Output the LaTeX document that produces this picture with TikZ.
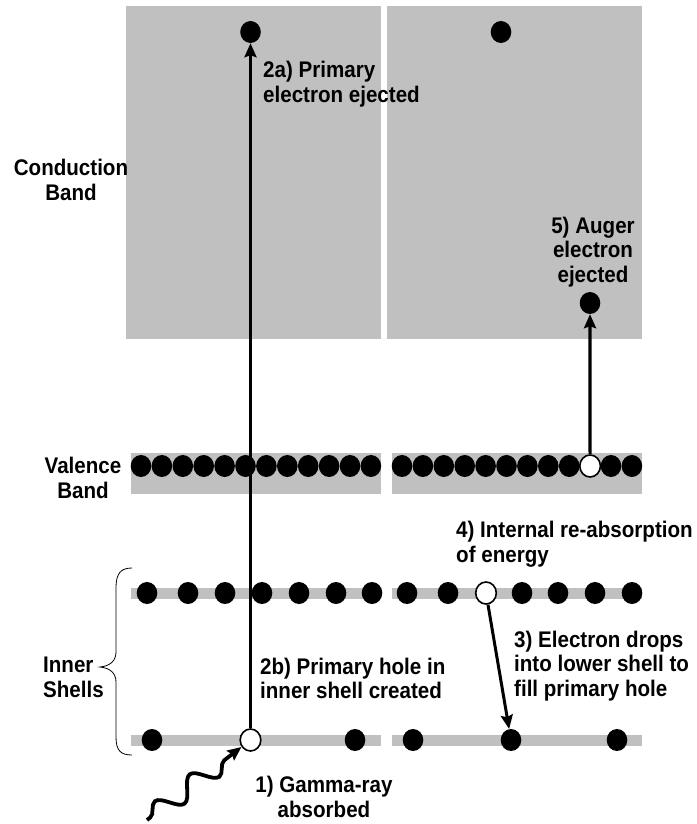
\documentclass[tikz,border=0pt]{standalone}
\usepackage{fontspec}
\setmainfont{Liberation Sans}[FakeStretch=0.91]
\usetikzlibrary{arrows.meta,shapes.geometric,decorations.pathmorphing}
\definecolor{bandgray}{RGB}{192,192,192}
\tikzset{
  band/.style={fill=bandgray, draw=none},
  el/.style={ellipse, fill=black, draw=none, minimum width=20.6pt, minimum height=22pt, inner sep=0pt},
  hole/.style={ellipse, fill=white, draw=black, line width=1.6pt, minimum width=20.6pt, minimum height=22pt, inner sep=0pt},
  lbl/.style={font=\bfseries\fontsize{22.6}{24.5}\selectfont, inner sep=0pt, align=center},
  lbll/.style={lbl, align=left, anchor=west},
  arr/.style={line width=3.2pt, -{Stealth[length=14pt,width=12pt,inset=2pt]}},
  brace/.style={line width=0.8pt}
}
\begin{document}
\begin{tikzpicture}[x=1pt,y=-1pt]
\useasboundingbox (0,0) rectangle (696,824);
% bands
\path[band] (126,6) rectangle (381,339);
\path[band] (387,6) rectangle (642,339);
\path[band] (131,453) rectangle (381,494);
\path[band] (392,453) rectangle (642,494);
\path[band] (131,588) rectangle (381,599);
\path[band] (392,588) rectangle (642,599);
\path[band] (131,735) rectangle (381,746);
\path[band] (392,735) rectangle (642,746);
% conduction electrons
\node[el] (c1) at (250.5,32) {};
\node[el] (c2) at (501,32) {};
\node[el] (ca) at (590,303) {};
% valence
\foreach \i in {0,...,11} { \node[el] (vl\i) at ({141+20.9*\i},466) {}; }
\foreach \i in {0,...,8,10,11} { \node[el] (vr\i) at ({402+20.9*\i},466) {}; }
\node[hole] (vh) at ({402+20.9*9},466) {};
% upper inner shell
\foreach \x [count=\k] in {147,188,225,262,299,336,372,407,448,522,558,595,632} { \node[el] (u\k) at (\x,593) {}; }
\node[hole] (uh) at (486,593) {};
% lower inner shell
\foreach \x [count=\k] in {152,355,413,511,617} { \node[el] (l\k) at (\x,740) {}; }
\node[hole] (lh) at (250.5,740) {};
% arrows
\draw[arr] (lh) -- (c1);
\draw[arr] (vh) -- (ca);
\draw[arr, line width=3pt] (uh) -- (l4);
\coordinate (w0) at (147,820);
\draw[arr, line width=3.8pt, decorate, decoration={snake, segment length=44pt, amplitude=10pt, pre length=4pt, post length=16pt}] (w0) -- (lh);
% brace
\draw[brace] (132,568) .. controls (121,568) and (116,573) .. (116,588) -- (116,652) .. controls (116,661) and (110,666) .. (100,667) .. controls (110,668) and (116,673) .. (116,682) -- (116,737) .. controls (116,751) and (121,755) .. (132,755);
% labels
\node[lbl] (tcb) at (71,180) {Conduction\\Band};
\node[lbll] (t2a) at (263,84) {2a) Primary\\electron ejected};
\node[lbl] (t5) at (593,252) {5) Auger\\electron\\ejected};
\node[lbl] (tvb) at (83,478) {Valence\\Band};
\node[lbll] (t4) at (456,544) {4) Internal re-absorption\\of energy};
\node[lbll] (tis) at (43,677.5) {Inner\\Shells};
\node[lbll] (t2b) at (260,678.5) {2b) Primary hole in\\inner shell created};
\node[lbll] (t3) at (514,666) {3) Electron drops\\into lower shell to\\fill primary hole};
\node[lbl] (t1) at (324,797) {1) Gamma-ray\\absorbed};
\end{tikzpicture}
\end{document}
